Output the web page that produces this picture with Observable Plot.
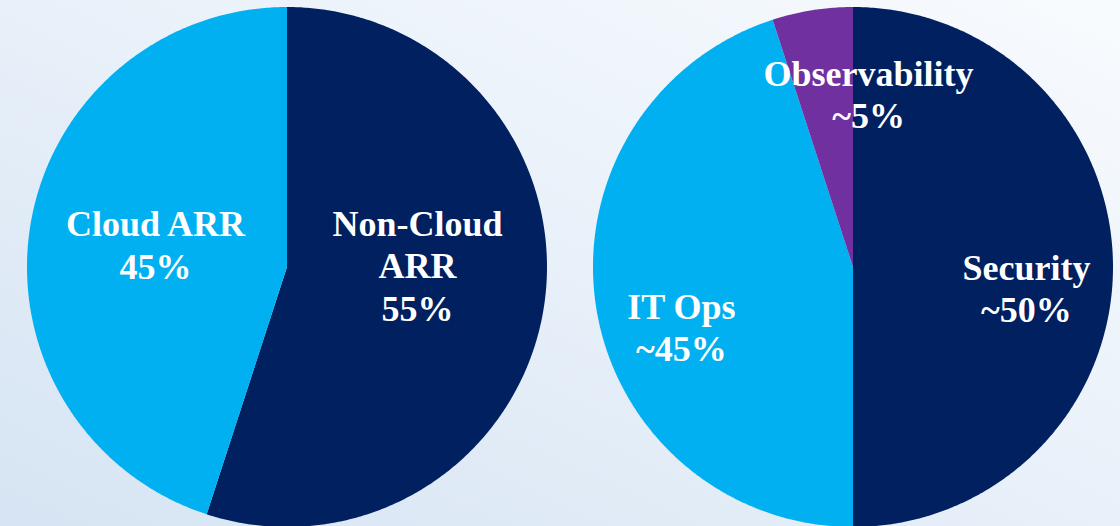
<!DOCTYPE html>
<html>
<head>
<meta charset="utf-8">
<script src="https://cdn.jsdelivr.net/npm/d3@7"></script>
<script src="https://cdn.jsdelivr.net/npm/@observablehq/plot@0.6"></script>
<style>
  html, body { margin: 0; padding: 0; overflow: hidden; background: #e9f0f8; }
  #chart svg { display: block; }
</style>
</head>
<body>
<div id="chart"></div>
<script>
// ---- DATA ----
const arrCategories = ["Non-Cloud ARR", "Cloud ARR"];
const arrValues = [55, 45];
const arrValueLabels = ["55%", "45%"];

const productCategories = ["Security", "IT Ops", "Observability"];
const productValues = [50, 45, 5];
const productValueLabels = ["~50%", "~45%", "~5%"];

// ---- LAYOUT / STYLE (not data) ----
const W = 1120, H = 526, R = 260;           // pixel radius of each pie
const pieCenterPx = [[287, 267], [853, 267]];
const sliceColors = {
  "Non-Cloud ARR": "#002060", "Cloud ARR": "#00B0F0",
  "Security": "#002060", "IT Ops": "#00B0F0", "Observability": "#7030A0"
};
const wrap = {"Non-Cloud ARR": ["Non-Cloud", "ARR"]};
// first-line centre of each label, relative to its pie centre, in radius units (y up)
const labelAnchor = {
  "Non-Cloud ARR": [0.50, 0.167],
  "Cloud ARR": [-0.508, 0.165],
  "Security": [0.665, -0.002],
  "IT Ops": [-0.662, -0.152],
  "Observability": [0.058, 0.744]
};
const lineGap = 0.164;

// pie centres in data units
const centers = pieCenterPx.map(([px, py]) => [(px - pieCenterPx[0][0]) / R, -(py - pieCenterPx[0][1]) / R]);

const pies = [
  {cats: arrCategories, vals: arrValues, labels: arrValueLabels},
  {cats: productCategories, vals: productValues, labels: productValueLabels}
];

const points = [];
const lines = [];
pies.forEach((pie, p) => {
  const [cx, cy] = centers[p];
  const total = d3.sum(pie.vals);
  let acc = 0;
  pie.cats.forEach((cat, i) => {
    const a0 = acc / total * 2 * Math.PI;
    acc += pie.vals[i];
    const a1 = acc / total * 2 * Math.PI;
    const n = Math.max(2, Math.ceil((a1 - a0) / (Math.PI / 360)));
    for (let k = 0; k <= n; k++) {
      const a = a0 + (a1 - a0) * k / n;
      points.push({category: cat, x: cx + Math.sin(a), y: cy + Math.cos(a), cx, cy});
    }
    const textLines = [...(wrap[cat] || [cat]), pie.labels[i]];
    const [lx, ly] = labelAnchor[cat];
    textLines.forEach((t, j) => lines.push({text: t, x: cx + lx, y: cy + ly - j * lineGap}));
  });
});

const allCats = [...arrCategories, ...productCategories];

const chart = Plot.plot({
  width: W,
  height: H,
  margin: 0,
  x: {domain: [-pieCenterPx[0][0] / R, (W - pieCenterPx[0][0]) / R], axis: null},
  y: {domain: [-(H - pieCenterPx[0][1]) / R, pieCenterPx[0][1] / R], axis: null},
  color: {domain: allCats, range: allCats.map(c => sliceColors[c])},
  style: {
    background: "linear-gradient(to bottom left, #f8fbfe 0%, #e8f0f9 50%, #d6e4f3 100%)",
    overflow: "hidden"
  },
  marks: [
    Plot.area(points, {x1: "x", y1: "y", x2: "cx", y2: "cy", z: "category", fill: "category"}),
    Plot.text(lines, {
      x: "x", y: "y", text: "text",
      fill: "white", fontSize: 36, fontWeight: "bold",
      fontFamily: "Liberation Serif", textAnchor: "middle", lineAnchor: "middle"
    })
  ]
});

document.getElementById("chart").appendChild(chart);
</script>
</body>
</html>
